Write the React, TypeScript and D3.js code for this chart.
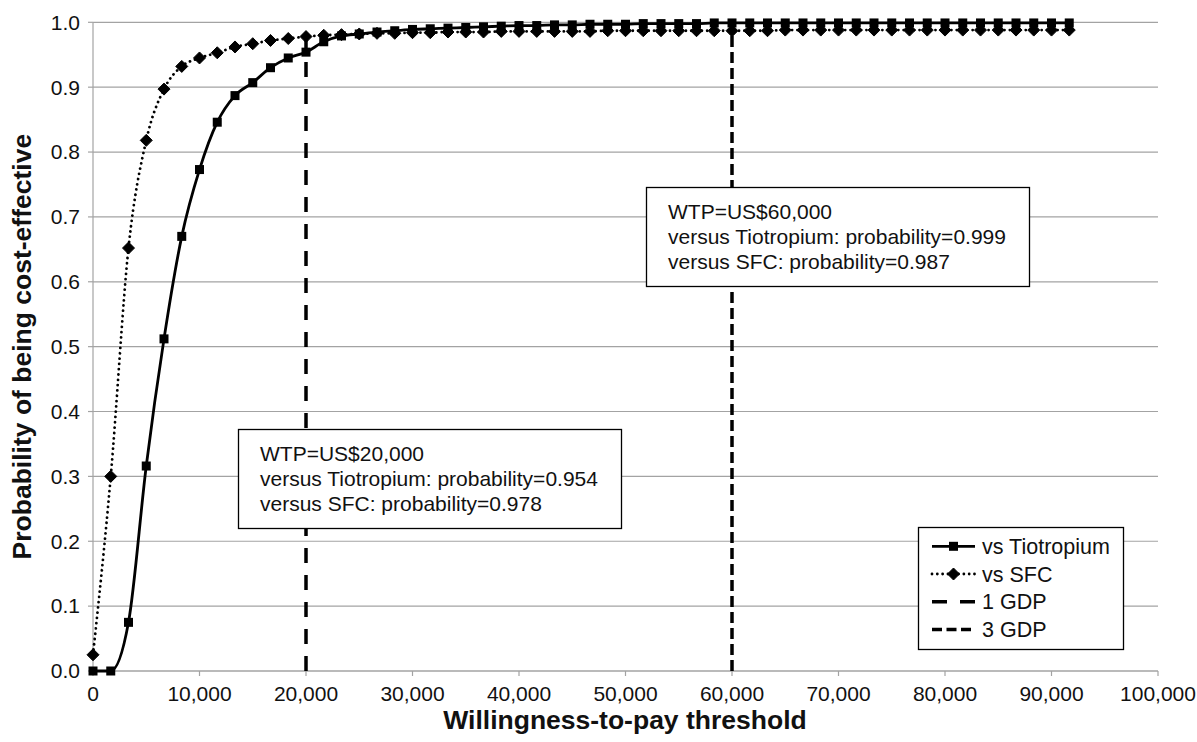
import React from 'react';
import * as d3 from 'd3';

// ---- data ----
const STEP = 100000 / 60;
const tiotropium = [
  0, 0, 0.075, 0.316, 0.512, 0.670, 0.773, 0.846, 0.887, 0.907,
  0.930, 0.945, 0.954, 0.970, 0.979, 0.982, 0.985, 0.987, 0.989, 0.990,
  0.991, 0.992, 0.993, 0.994, 0.995, 0.995, 0.996, 0.996, 0.997, 0.997,
  0.997, 0.998, 0.998, 0.998, 0.998, 0.999, 0.999, 0.999, 0.999, 0.999,
  0.999, 0.999, 0.999, 0.999, 0.999, 0.999, 0.999, 0.999, 0.999, 0.999,
  0.999, 0.999, 0.999, 0.999, 0.999, 0.999,
];
const sfc = [
  0.025, 0.300, 0.652, 0.818, 0.897, 0.932, 0.945, 0.953, 0.962, 0.967,
  0.972, 0.975, 0.978, 0.980, 0.981, 0.982, 0.983, 0.983, 0.984, 0.984,
  0.985, 0.985, 0.985, 0.986, 0.986, 0.986, 0.986, 0.986, 0.986, 0.987,
  0.987, 0.987, 0.987, 0.987, 0.987, 0.987, 0.987, 0.987, 0.987, 0.988,
  0.988, 0.988, 0.988, 0.988, 0.988, 0.988, 0.988, 0.988, 0.988, 0.988,
  0.988, 0.988, 0.988, 0.988, 0.988, 0.988,
];
const wtp = tiotropium.map((_, i) => i * STEP);
const yTicks = [0, 0.1, 0.2, 0.3, 0.4, 0.5, 0.6, 0.7, 0.8, 0.9, 1.0];
const xTicks = [0, 10000, 20000, 30000, 40000, 50000, 60000, 70000, 80000, 90000, 100000];
const gdpValues = [20000, 60000];
const gdpLabels = ['1 GDP', '3 GDP'];
const seriesLabels = ['vs Tiotropium', 'vs SFC'];
const annotation1 = ['WTP=US$20,000', 'versus Tiotropium: probability=0.954', 'versus SFC: probability=0.978'];
const annotation2 = ['WTP=US$60,000', 'versus Tiotropium: probability=0.999', 'versus SFC: probability=0.987'];

const FONT = '"Liberation Sans", Arial, sans-serif';
const GRID = '#a3a3a3';

export default function App() {
  const W = 1197, H = 742;
  const x = d3.scaleLinear().domain([0, 100000]).range([93, 1158]);
  const y = d3.scaleLinear().domain([0, 1]).range([671, 22.3]);
  const fmt = d3.format(',');

  const line = d3.line<number>()
    .x((_, i) => x(wtp[i]))
    .y((d) => y(d))
    .curve(d3.curveMonotoneX);

  const gdpDash = ['15,12', '11,5'];
  const gdpTop = gdpValues.map((v) => {
    const i = Math.round(v / STEP);
    return Math.max(tiotropium[i], sfc[i]);
  });

  const diamond = (cx: number, cy: number, r = 6) =>
    `M${cx},${cy - r}L${cx + r},${cy}L${cx},${cy + r}L${cx - r},${cy}Z`;

  const annBoxes = [
    { lines: annotation1, left: 238.5, top: 429.5, width: 383, height: 99 },
    { lines: annotation2, left: 646.5, top: 187.5, width: 383, height: 99 },
  ];

  const legend = { left: 918.5, top: 527.5, width: 205, height: 122 };
  const rowY = (k: number) => 546.3 + k * 27.7;

  return (
    <svg width={W} height={H} style={{ position: 'absolute', left: 0, top: 0, background: '#fff' }}
      fontFamily={FONT}>
      <rect x={0} y={0} width={W} height={H} fill="#fff" />
      {/* gridlines */}
      {yTicks.map((t) => (
        <line key={'g' + t} x1={x(0)} x2={x(100000)} y1={y(t)} y2={y(t)} stroke={GRID} strokeWidth={1.2} />
      ))}
      {/* y axis */}
      <line x1={x(0)} x2={x(0)} y1={y(0)} y2={y(1)} stroke={GRID} strokeWidth={1.2} />
      {yTicks.map((t) => (
        <g key={'yt' + t}>
          <line x1={x(0) - 5} x2={x(0)} y1={y(t)} y2={y(t)} stroke={GRID} strokeWidth={1.2} />
          <text x={80} y={y(t)} dy="0.35em" textAnchor="end" fontSize={21} fill="#111">{t.toFixed(1)}</text>
        </g>
      ))}
      {/* x axis */}
      <line x1={x(0)} x2={x(100000)} y1={y(0)} y2={y(0)} stroke={GRID} strokeWidth={1.2} />
      {xTicks.map((t) => (
        <g key={'xt' + t}>
          <line x1={x(t)} x2={x(t)} y1={y(0)} y2={y(0) + 5} stroke={GRID} strokeWidth={1.2} />
          <text x={x(t)} y={701} textAnchor="middle" fontSize={21} fill="#111">{fmt(t)}</text>
        </g>
      ))}
      {/* axis titles */}
      <text x={625} y={729} textAnchor="middle" fontSize={26.5} fontWeight="bold" fill="#111">
        Willingness-to-pay threshold
      </text>
      <text transform={`translate(31,${(y(0) + y(1)) / 2}) rotate(-90)`} textAnchor="middle" fontSize={26.5}
        fontWeight="bold" fill="#111">
        Probability of being cost-effective
      </text>

      {/* GDP lines */}
      {gdpValues.map((v, k) => (
        <line key={'gdp' + v} x1={x(v)} x2={x(v)} y1={y(0)} y2={y(gdpTop[k])} stroke="#000"
          strokeWidth={3.5} strokeDasharray={gdpDash[k]} />
      ))}

      {/* SFC dotted */}
      <path d={line(sfc) || ''} fill="none" stroke="#000" strokeWidth={2.8} strokeDasharray="0.01,5.3"
        strokeLinecap="round" />
      {sfc.map((v, i) => (
        <path key={'sm' + i} d={diamond(x(wtp[i]), y(v), 6)} fill="#000" stroke="#000" strokeWidth={1} />
      ))}
      {/* Tiotropium solid */}
      <path d={line(tiotropium) || ''} fill="none" stroke="#000" strokeWidth={2.8} />
      {tiotropium.map((v, i) => (
        <rect key={'tm' + i} x={x(wtp[i]) - 4.5} y={y(v) - 4.5} width={9} height={9} fill="#000" />
      ))}

      {/* annotation boxes */}
      {annBoxes.map((b, k) => (
        <g key={'ann' + k}>
          <rect x={b.left} y={b.top} width={b.width} height={b.height} fill="#fff" stroke="#000" strokeWidth={1.3} />
          {b.lines.map((l, j) => (
            <text key={j} x={b.left + 21.5} y={b.top + 31 + j * 25} fontSize={21} fill="#111">{l}</text>
          ))}
        </g>
      ))}

      {/* legend */}
      <g>
        <rect x={legend.left} y={legend.top} width={legend.width} height={legend.height} fill="#fff"
          stroke="#000" strokeWidth={1.3} />
        <line x1={932} x2={975} y1={rowY(0)} y2={rowY(0)} stroke="#000" strokeWidth={2.8} />
        <rect x={953.5 - 4.5} y={rowY(0) - 4.5} width={9} height={9} fill="#000" />
        <line x1={932} x2={975} y1={rowY(1)} y2={rowY(1)} stroke="#000" strokeWidth={2.8}
          strokeDasharray="0.01,5.3" strokeLinecap="round" />
        <path d={diamond(953.5, rowY(1), 6)} fill="#000" stroke="#000" strokeWidth={1} />
        <line x1={932} x2={975} y1={rowY(2)} y2={rowY(2)} stroke="#000" strokeWidth={3.5} strokeDasharray="15,13" />
        <line x1={932} x2={975} y1={rowY(3)} y2={rowY(3)} stroke="#000" strokeWidth={3.5} strokeDasharray="10,4.5" />
        {[...seriesLabels, ...gdpLabels].map((l, k) => (
          <text key={l} x={982} y={rowY(k)} dy="0.35em" fontSize={21.5} fill="#111">{l}</text>
        ))}
      </g>
    </svg>
  );
}
